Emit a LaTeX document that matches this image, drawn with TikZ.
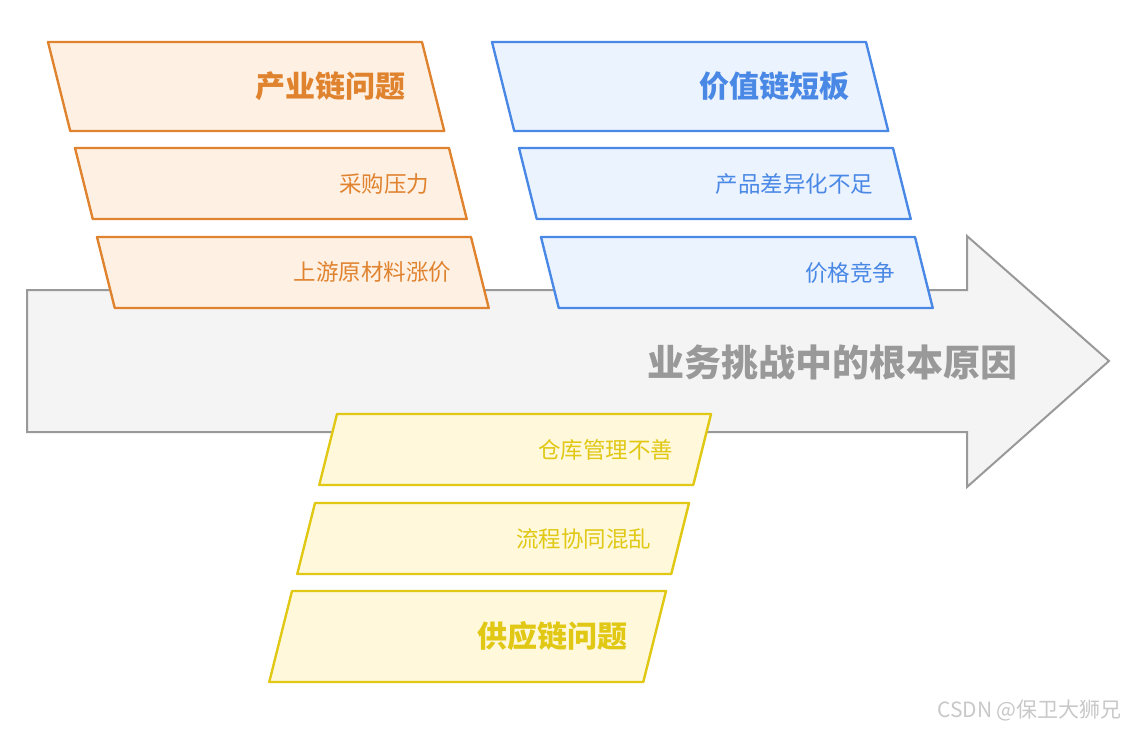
\documentclass[tikz,border=0pt]{standalone}
\usepackage{fontspec}
\setmainfont{Noto Sans CJK SC}
\definecolor{orline}{HTML}{E0832F}
\definecolor{orfill}{HTML}{FEF0E3}
\definecolor{blline}{HTML}{4A88E6}
\definecolor{blfill}{HTML}{EBF3FF}
\definecolor{yeline}{HTML}{E0C814}
\definecolor{yefill}{HTML}{FFF8DA}
\definecolor{spline}{HTML}{999999}
\definecolor{spfill}{HTML}{F4F4F4}
\definecolor{marktxt}{HTML}{C8C8C8}

\begin{document}
\begin{tikzpicture}[x=1pt,y=-1pt,
  slab/.style={line width=2.4pt,line join=round},
  headtxt/.style={inner sep=0pt,xshift=3pt,font=\fontsize{30}{34}\selectfont\bfseries},
  itemtxt/.style={inner sep=0pt,xshift=1.5pt,font=\fontsize{22.5}{26}\selectfont}]
  \useasboundingbox (0,0) rectangle (1126,729);

  % spine arrow
  \draw[fill=spfill,draw=spline,line width=2pt,line join=miter]
    (27,290) -- (967,290) -- (967,236) -- (1109,361) -- (967,487)
    -- (967,432) -- (27,432) -- cycle;
  \node[inner sep=0pt,text=spline,font=\fontsize{37}{42}\selectfont\bfseries]
    (root) at (832,362) {业务挑战中的根本原因};

  % industry chain
  \foreach \px/\py/\ph/\pid/\pkind/\ptxt in {48/42/89/industry/headtxt/产业链问题,
      75/148/71/purchase/itemtxt/采购压力, 97/237/71/upstream/itemtxt/上游原材料涨价}
  {
    \draw[slab,draw=orline,fill=orfill] (\px,\py) -- ++(374,0) -- ++(\ph/4,\ph) -- ++(-374,0) -- cycle;
    \node[\pkind,text=orline,anchor=east] (\pid) at (\px+374+\ph/8-30,\py+\ph/2) {\ptxt};
  }

  % value chain
  \foreach \px/\py/\ph/\pid/\pkind/\ptxt in {492/42/89/value/headtxt/价值链短板,
      519/148/71/differ/itemtxt/产品差异化不足, 541/237/71/price/itemtxt/价格竞争}
  {
    \draw[slab,draw=blline,fill=blfill] (\px,\py) -- ++(374,0) -- ++(\ph/4,\ph) -- ++(-374,0) -- cycle;
    \node[\pkind,text=blline,anchor=east] (\pid) at (\px+374+\ph/8-30,\py+\ph/2) {\ptxt};
  }

  % supply chain
  \foreach \px/\py/\ph/\pid/\pkind/\ptxt in {337/414/71/storage/itemtxt/仓库管理不善,
      315/503/71/process/itemtxt/流程协同混乱, 292/591/91/supply/headtxt/供应链问题}
  {
    \draw[slab,draw=yeline,fill=yefill] (\px,\py) -- ++(374,0) -- ++(-\ph/4,\ph) -- ++(-374,0) -- cycle;
    \node[\pkind,text=yeline,anchor=east] (\pid) at (\px+374-\ph/8-30,\py+\ph/2) {\ptxt};
  }

  \node[inner sep=0pt,anchor=east,text=marktxt,font=\fontsize{21}{24}\selectfont]
    (mark) at (1122,710) {CSDN @保卫大狮兄};
\end{tikzpicture}
\end{document}
